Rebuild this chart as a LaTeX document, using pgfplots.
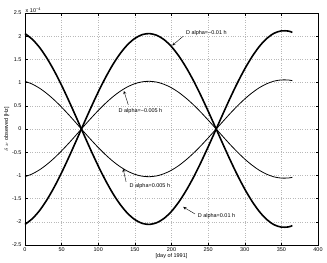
\documentclass[border=0pt]{standalone}
\usepackage{pgfplots}
\pgfplotsset{compat=1.18}
\usepackage{pgfplotstable}
\usepackage{fontspec}
\setmainfont{Liberation Sans}
\pgfplotstableread{
t v1 v2 v3 v4
0 2.056 -2.056 1.028 -1.028
10 1.933 -1.933 0.967 -0.967
20 1.755 -1.755 0.878 -0.878
30 1.524 -1.524 0.762 -0.762
40 1.250 -1.250 0.625 -0.625
50 0.940 -0.940 0.470 -0.470
60 0.603 -0.603 0.302 -0.302
70 0.251 -0.251 0.126 -0.126
80 -0.107 0.107 -0.054 0.054
90 -0.460 0.460 -0.230 0.230
100 -0.798 0.798 -0.399 0.399
110 -1.110 1.110 -0.555 0.555
120 -1.390 1.390 -0.695 0.695
130 -1.627 1.627 -0.814 0.814
140 -1.817 1.817 -0.909 0.909
150 -1.953 1.953 -0.977 0.977
160 -2.034 2.034 -1.017 1.017
170 -2.056 2.056 -1.028 1.028
180 -2.019 2.019 -1.010 1.010
190 -1.924 1.924 -0.962 0.962
200 -1.775 1.775 -0.888 0.888
210 -1.573 1.573 -0.787 0.787
220 -1.326 1.326 -0.663 0.663
230 -1.042 1.042 -0.521 0.521
240 -0.725 0.725 -0.363 0.363
250 -0.386 0.386 -0.193 0.193
260 -0.035 0.035 -0.018 0.018
270 0.318 -0.318 0.159 -0.159
280 0.665 -0.665 0.333 -0.333
290 0.994 -0.994 0.497 -0.497
300 1.295 -1.295 0.648 -0.648
310 1.559 -1.559 0.780 -0.780
320 1.781 -1.781 0.891 -0.891
330 1.950 -1.950 0.975 -0.975
340 2.063 -2.063 1.032 -1.032
350 2.115 -2.115 1.058 -1.058
360 2.110 -2.110 1.055 -1.055
365 2.081 -2.081 1.041 -1.041
}\data
\begin{document}
\begin{tikzpicture}
\path[use as bounding box] (-25bp,-18bp) rectangle (302bp,245bp);
\begin{axis}[
  at={(0,0)}, anchor=south west,
  scale only axis, width=293bp, height=232bp,
  xmin=0, xmax=400, ymin=-2.5, ymax=2.5,
  xtick={0,50,...,400},
  ytick={-2.5,-2,-1.5,-1,-0.5,0,0.5,1,1.5,2,2.5},
  yticklabels={-2.5,-2,-1.5,-1,-0.5,0,0.5,1,1.5,2,2.5},
  xticklabels={0,50,100,150,200,250,300,350,400},
  tick align=inside, tick pos=both,
  major tick length=2.5bp,
  tick style={black, line width=0.4pt},
  axis line style={black, line width=0.5pt},
  grid=major,
  major grid style={gray!55, dotted, line width=0.4pt},
  ticklabel style={font=\fontsize{5.5}{6}\selectfont},
  xticklabel style={yshift=1bp},
  xlabel={[day of 1991]},
  ylabel={$\delta$ $\nu$ observed [Hz]},
  label style={font=\fontsize{5.5}{6}\selectfont},
  xlabel style={yshift=5bp},
  ylabel style={yshift=-4bp},
  clip=false,
]
\addplot[black, line width=1.6bp, smooth] table[x=t, y=v1] {\data};
\addplot[black, line width=1.6bp, smooth] table[x=t, y=v2] {\data};
\addplot[black, line width=0.8bp, smooth] table[x=t, y=v3] {\data};
\addplot[black, line width=0.8bp, smooth] table[x=t, y=v4] {\data};
\node[anchor=south west, inner sep=0.5bp, font=\fontsize{5.5}{6}\selectfont] at (axis cs:0,2.5) {x 10\textsuperscript{−4}};
\draw[-stealth, line width=0.4pt] (axis cs:216,2.0) -- (axis cs:201,1.80);
\node[anchor=west, inner sep=0.5bp, font=\fontsize{5.5}{6}\selectfont] at (axis cs:219,2.07) {D alpha=−0.01 h};
\draw[-stealth, line width=0.4pt] (axis cs:141,0.52) -- (axis cs:135,0.82);
\node[anchor=west, inner sep=0.5bp, font=\fontsize{5.5}{6}\selectfont] at (axis cs:127,0.39) {D alpha=−0.005 h};
\draw[-stealth, line width=0.4pt] (axis cs:138,-1.14) -- (axis cs:134,-0.86);
\node[anchor=west, inner sep=0.5bp, font=\fontsize{5.5}{6}\selectfont] at (axis cs:142,-1.23) {D alpha=0.005 h};
\draw[-stealth, line width=0.4pt] (axis cs:232,-1.83) -- (axis cs:216,-1.68);
\node[anchor=west, inner sep=0.5bp, font=\fontsize{5.5}{6}\selectfont] at (axis cs:235,-1.875) {D alpha=0.01 h};
\end{axis}
\end{tikzpicture}
\end{document}
